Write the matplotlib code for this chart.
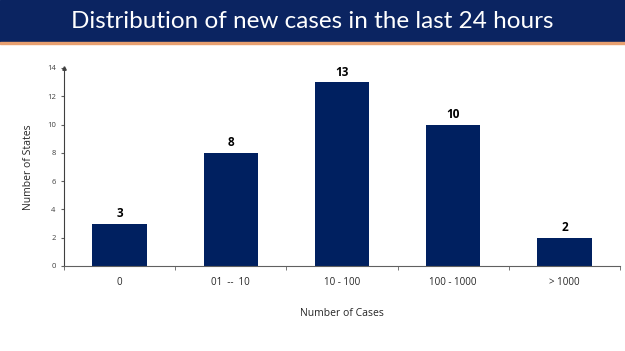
import numpy as np
import matplotlib.pyplot as plt

categories = ['0', '01  --  10', '10 - 100', '100 - 1000', '> 1000']
states = [3, 8, 13, 10, 2]
yticks = [0, 2, 4, 6, 8, 10, 12, 14]

navy = '#002060'

fig = plt.figure(figsize=(6.25, 3.51), dpi=100)

# title banner
fig.patches.append(plt.Rectangle((0, 1 - 42 / 351), 1, 42 / 351, transform=fig.transFigure,
                                 color='#0b2461', zorder=0))
fig.patches.append(plt.Rectangle((0, 1 - 44 / 351), 1, 2 / 351, transform=fig.transFigure,
                                 color='#e8a070', zorder=0))
fig.text(0.5, 1 - 21 / 351, 'Distribution of new cases in the last 24 hours', color='white',
         fontsize=17.5, ha='center', va='center', family='Lato')

ax = fig.add_axes([64 / 625, (351 - 266) / 351, (620 - 64) / 625, (266 - 68) / 351])
x = np.arange(len(categories))
bars = ax.bar(x, states, width=0.49, color=navy)
for xi, v in zip(x, states):
    ax.text(xi, v + 0.25, str(v), ha='center', va='bottom', fontsize=8.5, fontweight='bold',
            family='Open Sans')

ax.set_xlim(-0.5, len(categories) - 0.5)
ax.set_ylim(0, 14)
ax.set_yticks(yticks)
ax.set_yticklabels([str(t) for t in yticks], fontsize=5.5, color='#404040', family='Open Sans')
ax.set_xticks(x)
ax.set_xticklabels(categories, fontsize=7, color='#262626', family='Open Sans')
ax.set_xticks(np.arange(len(categories) + 1) - 0.5, minor=True)
ax.tick_params(axis='x', which='major', length=0, pad=8)
ax.tick_params(axis='x', which='minor', length=3, color='#606060', direction='out')
ax.tick_params(axis='y', length=2, color='#606060', pad=4)
for s in ['top', 'right']:
    ax.spines[s].set_visible(False)
ax.spines['left'].set_color('#404040')
ax.spines['bottom'].set_color('#606060')
ax.plot(0, 1, marker='^', markersize=2.5, color='#404040', transform=ax.transAxes, clip_on=False)

ax.set_ylabel('Number of States', fontsize=7.5, color='#262626', family='Open Sans', labelpad=9)
ax.set_xlabel('Number of Cases', fontsize=7.5, color='#262626', family='Open Sans', labelpad=14)

fig.savefig('out.png', dpi=100)
